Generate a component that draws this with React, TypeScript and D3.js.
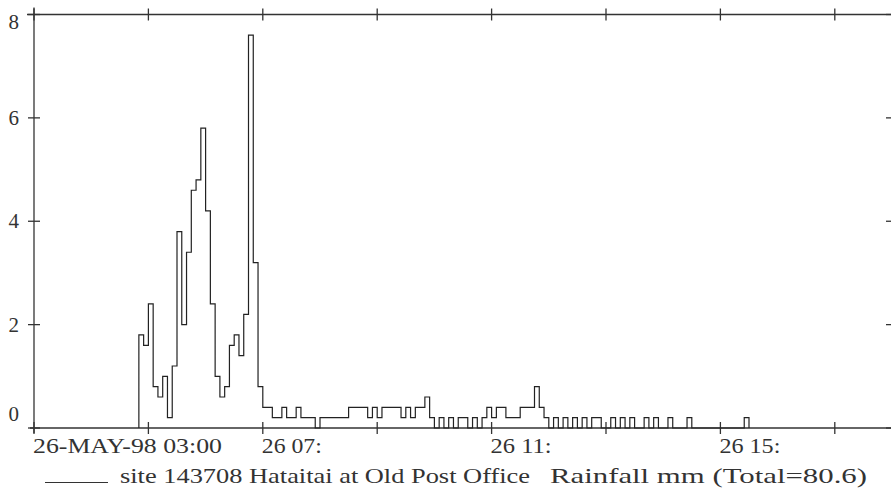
import React from "react";
import * as d3 from "d3";

const W = 891;
const H = 493;

// ---- data -------------------------------------------------------------
const siteLabel = "site 143708 Hataitai at Old Post Office";
const seriesLabel = "Rainfall mm (Total=80.6)";
const startHour = 3; // 26-MAY-98 03:00
const endHour = 18;
const firstBinMinute = 4 * 60 + 50; // first plotted 5-minute bin starts 04:50
const binMinutes = 5;

// rainfall (mm) per 5-minute interval, starting 04:50
const rainfall = [
  // 04:50
  1.8, 1.6,
  // 05:00
  2.4, 0.8, 0.6, 1.0, 0.2, 1.2, 3.8, 2.0, 3.4, 4.6, 4.8, 5.8,
  // 06:00
  4.2, 2.4, 1.0, 0.6, 0.8, 1.6, 1.8, 1.4, 2.2, 7.6, 3.2, 0.8,
  // 07:00
  0.4, 0.4, 0.2, 0.2, 0.4, 0.2, 0.2, 0.4, 0.2, 0.2, 0.2, 0,
  // 08:00
  0.2, 0.2, 0.2, 0.2, 0.2, 0.2, 0.4, 0.4, 0.4, 0.4, 0.2, 0.4,
  // 09:00
  0.2, 0.4, 0.4, 0.4, 0.4, 0.2, 0.4, 0.2, 0.4, 0.4, 0.6, 0.2,
  // 10:00
  0, 0.2, 0, 0.2, 0, 0.2, 0.2, 0, 0.2, 0, 0.2, 0.4,
  // 11:00
  0.2, 0.4, 0.4, 0.2, 0.2, 0.2, 0.4, 0.4, 0.4, 0.8, 0.4, 0.2,
  // 12:00
  0, 0.2, 0, 0.2, 0, 0.2, 0, 0.2, 0, 0.2, 0.2, 0,
  // 13:00
  0, 0.2, 0, 0.2, 0, 0.2, 0, 0, 0.2, 0, 0.2, 0,
  // 14:00
  0, 0.2, 0, 0, 0, 0.2, 0, 0, 0, 0, 0, 0,
  // 15:00
  0, 0, 0, 0, 0, 0.2,
];

const yTicks = [0, 2, 4, 6, 8];
const xTickHours = [3, 5, 7, 9, 11, 13, 15, 17];
const xLabelHours = [3, 7, 11, 15];
const xLabels = ["26-MAY-98 03:00", "26 07:", "26 11:", "26 15:"];
const xLabelWidths = [189, 60, 61, 61];

// ---- layout -----------------------------------------------------------
const left = 34;
const right = 892;
const top = 14.5;
const bottom = 428;
const FONT = "'Liberation Serif', 'DejaVu Serif', serif";
const INK = "#333";

export default function App() {
  const x = d3.scaleLinear().domain([startHour, endHour]).range([left, right]);
  const y = d3.scaleLinear().domain([0, 8]).range([bottom, top]);

  const pts: [number, number][] = [];
  const t0 = firstBinMinute / 60;
  pts.push([t0, 0]);
  rainfall.forEach((v, i) => pts.push([(firstBinMinute + i * binMinutes) / 60, v]));
  pts.push([(firstBinMinute + rainfall.length * binMinutes) / 60, 0]);

  const line = d3
    .line<[number, number]>()
    .x((d) => x(d[0]))
    .y((d) => y(d[1]))
    .curve(d3.curveStepAfter);

  const tl = 6; // half tick length (ticks cross the axis)

  const yLabelBaseline = (v: number) => {
    if (v === 8) return y(v) + 14;
    if (v === 0) return y(v) - 7.5;
    return y(v) + 7;
  };

  return (
    <svg
      width={W}
      height={H}
      viewBox={`0 0 ${W} ${H}`}
      style={{ position: "absolute", left: 0, top: 0, background: "#fff" }}
    >
      <rect x={0} y={0} width={W} height={H} fill="#fff" />
      {/* frame */}
      <g stroke={INK} strokeWidth={1.3} fill="none">
        <line x1={left - 7} y1={top} x2={right} y2={top} />
        <line x1={left - 4} y1={bottom} x2={right} y2={bottom} />
        <line x1={left} y1={top - 7} x2={left} y2={bottom + 5} />
        <line x1={right} y1={top} x2={right} y2={bottom} />
        {xTickHours.map((h) => (
          <g key={"xt" + h}>
            <line x1={x(h)} y1={top - tl} x2={x(h)} y2={top + tl} />
            <line x1={x(h)} y1={bottom - tl} x2={x(h)} y2={bottom + tl} />
          </g>
        ))}
        {yTicks.map((v) => (
          <g key={"yt" + v}>
            <line x1={left - tl} y1={y(v)} x2={left + tl} y2={y(v)} />
            <line x1={right - tl} y1={y(v)} x2={right + tl} y2={y(v)} />
          </g>
        ))}
      </g>

      {/* y labels */}
      <g fontFamily={FONT} fontSize={21} fill={INK} textAnchor="end">
        {yTicks.map((v) => (
          <text key={"yl" + v} x={19} y={yLabelBaseline(v)}>
            {v}
          </text>
        ))}
      </g>

      {/* x labels */}
      <g fontFamily={FONT} fontSize={21} fill={INK}>
        {xLabelHours.map((h, i) => (
          <text
            key={"xl" + h}
            x={x(h) - 1}
            y={453}
            textLength={xLabelWidths[i]}
            lengthAdjust="spacingAndGlyphs"
          >
            {xLabels[i]}
          </text>
        ))}
      </g>

      {/* data */}
      <path d={line(pts) || ""} fill="none" stroke="#222" strokeWidth={1.2} />

      {/* legend */}
      <line x1={45} y1={482.5} x2={108} y2={482.5} stroke={INK} strokeWidth={1.2} />
      <g fontFamily={FONT} fontSize={21} fill={INK}>
        <text x={120} y={483} textLength={410} lengthAdjust="spacingAndGlyphs">
          {siteLabel}
        </text>
        <text x={550} y={483} textLength={317} lengthAdjust="spacingAndGlyphs">
          {seriesLabel}
        </text>
      </g>
    </svg>
  );
}
